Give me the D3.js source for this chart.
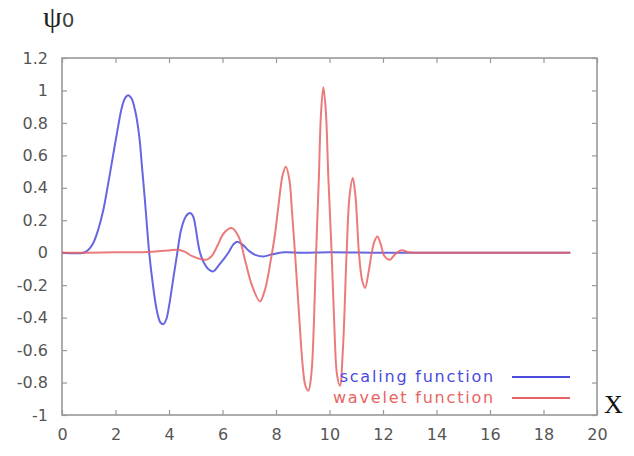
<!DOCTYPE html>
<html>
<head>
    <script src="https://d3js.org/d3.v7.min.js"></script>
    <style>
        body { margin: 0; background: #fff; }
        .tick text { font-family: "DejaVu Sans", sans-serif; font-size: 16px; fill: #555; }
        .tick line { stroke: #999; stroke-width: 1.2; }
        .domain { display: none; }
        .curve { fill: none; stroke-width: 2; stroke-linejoin: round; }
    </style>
</head>
<body>
<div id="chart"></div>
<script>
    // Values
    const xTicks = [0, 2, 4, 6, 8, 10, 12, 14, 16, 18, 20];
    const yTicks = [-1, -0.8, -0.6, -0.4, -0.2, 0, 0.2, 0.4, 0.6, 0.8, 1, 1.2];

    const scalingData = [
        [0, 0], [0.8, 0], [1.0, 0.02], [1.17, 0.06], [1.35, 0.14], [1.54, 0.26],
        [1.72, 0.42], [1.92, 0.61], [2.1, 0.78], [2.23, 0.89], [2.35, 0.95], [2.47, 0.97],
        [2.6, 0.95], [2.7, 0.9], [2.79, 0.83], [2.9, 0.7], [2.98, 0.55], [3.06, 0.4],
        [3.14, 0.24], [3.26, 0], [3.4, -0.2], [3.55, -0.36], [3.68, -0.43], [3.79, -0.44],
        [3.9, -0.41], [4.0, -0.33], [4.15, -0.17], [4.31, 0], [4.45, 0.14], [4.6, 0.215],
        [4.7, 0.238], [4.8, 0.245], [4.9, 0.225], [5.0, 0.15], [5.08, 0.065], [5.16, 0],
        [5.3, -0.06], [5.5, -0.105], [5.66, -0.115], [5.85, -0.08], [6.22, 0], [6.4, 0.05],
        [6.55, 0.068], [6.75, 0.05], [7.0, 0.01], [7.25, -0.015], [7.53, -0.023],
        [7.85, -0.01], [8.3, 0.003], [9, 0], [10, 0.003], [12, 0], [14, 0], [16, 0], [19, 0]
    ];

    const waveletData = [
        [0, 0], [1, 0], [2, 0.003], [3, 0.003], [3.5, 0.008], [4, 0.014], [4.35, 0.018],
        [4.6, 0.005], [4.85, -0.02], [5.1, -0.036], [5.4, -0.043], [5.6, -0.02], [5.8, 0.04],
        [6.05, 0.12], [6.34, 0.152], [6.6, 0.1], [6.85, -0.05], [7.1, -0.2], [7.4, -0.3],
        [7.6, -0.22], [7.8, -0.05], [7.95, 0.1], [8.1, 0.3], [8.25, 0.48], [8.37, 0.53],
        [8.5, 0.45], [8.6, 0.25], [8.71, 0], [8.85, -0.35], [9.0, -0.7], [9.1, -0.82],
        [9.21, -0.85], [9.32, -0.75], [9.42, -0.42], [9.5, 0], [9.6, 0.45], [9.68, 0.85],
        [9.77, 1.02], [9.86, 0.88], [9.96, 0.45], [10.08, 0], [10.18, -0.45], [10.28, -0.75],
        [10.39, -0.82], [10.5, -0.6], [10.64, 0], [10.75, 0.35], [10.87, 0.46], [10.97, 0.35],
        [11.1, 0], [11.22, -0.17], [11.33, -0.217], [11.45, -0.13], [11.58, 0], [11.68, 0.07],
        [11.79, 0.1], [11.92, 0.05], [12.05, -0.02], [12.26, -0.043], [12.45, -0.01],
        [12.7, 0.015], [12.95, 0.003], [13.3, 0], [15, 0], [17, 0], [19, 0]
    ];

    const seriesNames = ["scaling function", "wavelet function"];
    const seriesColors = ["#4b4bdc", "#e86464"];

    const W = 634, H = 456;
    const margin = {top: 58, right: 37, bottom: 41, left: 62};
    const width = W - margin.left - margin.right;
    const height = H - margin.top - margin.bottom;

    const svg = d3.select("#chart").append("svg")
        .attr("width", W)
        .attr("height", H);

    const g = svg.append("g")
        .attr("transform", `translate(${margin.left},${margin.top})`);

    const x = d3.scaleLinear().domain([0, 20]).range([0, width]);
    const y = d3.scaleLinear().domain([-1, 1.2]).range([height, 0]);

    // plain hyphen for negatives, like gnuplot
    const fmt = d => String(+d.toFixed(1));

    // axes with inward ticks on all four sides (gnuplot style)
    g.append("g")
        .attr("transform", `translate(0,${height})`)
        .call(d3.axisBottom(x).tickValues(xTicks).tickSizeInner(-5).tickPadding(14).tickFormat(fmt));
    g.append("g")
        .call(d3.axisTop(x).tickValues(xTicks).tickSizeInner(-5).tickFormat(""));
    g.append("g")
        .call(d3.axisLeft(y).tickValues(yTicks).tickSizeInner(-5).tickPadding(14).tickFormat(fmt));
    g.append("g")
        .attr("transform", `translate(${width},0)`)
        .call(d3.axisRight(y).tickValues(yTicks).tickSizeInner(-5).tickFormat(""));

    g.append("rect")
        .attr("width", width)
        .attr("height", height)
        .attr("fill", "none")
        .attr("stroke", "#999")
        .attr("stroke-width", 1.6);

    const line = d3.line()
        .x(d => x(d[0]))
        .y(d => y(d[1]))
        .curve(d3.curveCatmullRom.alpha(0.5));

    [scalingData, waveletData].forEach((data, i) => {
        g.append("path")
            .datum(data)
            .attr("class", "curve")
            .attr("stroke", seriesColors[i])
            .attr("stroke-opacity", 0.85)
            .attr("d", line);
    });

    // legend
    const legend = g.append("g");
    seriesNames.forEach((name, i) => {
        const ly = height - 38 + i * 21;
        legend.append("text")
            .attr("x", 433)
            .attr("y", ly)
            .attr("dy", "0.32em")
            .attr("text-anchor", "end")
            .attr("font-family", "DejaVu Sans, sans-serif")
            .attr("font-size", 16)
            .attr("letter-spacing", 1.8)
            .attr("fill", seriesColors[i])
            .text(name);
        legend.append("line")
            .attr("x1", 450).attr("x2", 508)
            .attr("y1", ly).attr("y2", ly)
            .attr("stroke", seriesColors[i])
            .attr("stroke-width", 2);
    });

    // axis titles
    const yTitle = svg.append("text")
        .attr("x", 43)
        .attr("y", 27);
    yTitle.append("tspan")
        .attr("font-family", "Liberation Serif, serif")
        .attr("font-size", 30)
        .attr("fill", "#222")
        .text("ψ");
    yTitle.append("tspan")
        .attr("font-family", "DejaVu Sans, sans-serif")
        .attr("font-size", 20)
        .attr("fill", "#444")
        .text("0");

    svg.append("text")
        .attr("x", 604)
        .attr("y", 413)
        .attr("font-family", "Liberation Serif, serif")
        .attr("font-size", 26)
        .attr("fill", "#111")
        .text("X");
</script>
</body>
</html>
